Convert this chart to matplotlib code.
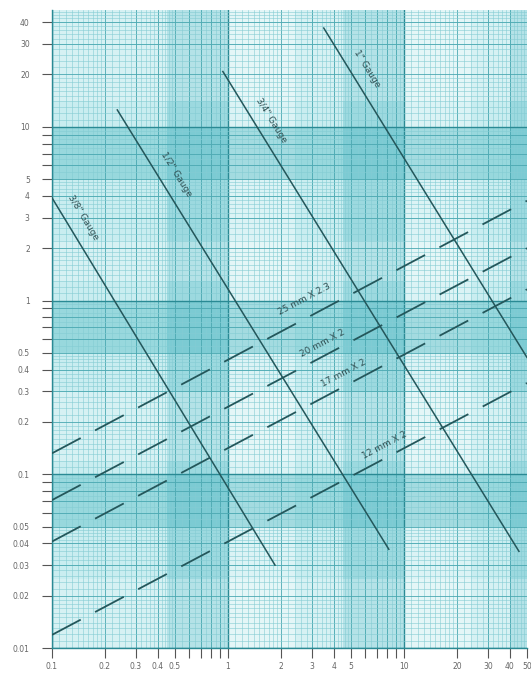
import numpy as np
import matplotlib.pyplot as plt

# solid gauge lines (start / end points)
gauge_labels = ['3/8" Gauge', '1/2" Gauge', '3/4" Gauge', '1" Gauge']
gauge_x0 = [0.1, 0.235, 0.935, 3.5]
gauge_y0 = [3.9, 12.5, 20.8, 37.0]
gauge_x1 = [1.85, 8.2, 45.0, 50.0]
gauge_y1 = [0.030, 0.037, 0.036, 0.47]
gauge_label_x = [0.125, 0.425, 1.48, 5.18]

# dashed tube lines
tube_labels = ['25 mm X 2.3', '20 mm X 2', '17 mm X 2', '12 mm X 2']
tube_x = [0.1, 50.0]
tube_y0 = [0.132, 0.071, 0.041, 0.0119]
tube_y1 = [3.75, 2.0, 1.16, 0.335]
tube_label_x = [3.02, 3.72, 4.85, 8.33]

x_ticklabels = ['0.1', '0.2', '0.3', '0.4', '0.5', '1', '2', '3', '4', '5',
                '10', '20', '30', '40', '50']
y_ticklabels = ['0.01', '0.02', '0.03', '0.04', '0.05', '0.1', '0.2', '0.3', '0.4', '0.5',
                '1', '2', '3', '4', '5', '10', '20', '30', '40']

XLIM = (0.1, 50)
YLIM = (0.01, 47)

fig = plt.figure(figsize=(5.31, 6.76), dpi=100)
ax = fig.add_axes([52 / 531, 28 / 676, 475 / 531, 638 / 676])
ax.set_xscale('log')
ax.set_yscale('log')
ax.set_xlim(*XLIM)
ax.set_ylim(*YLIM)
ax.set_facecolor('#c9edf0')


def paper_positions(lo_exp, hi_exp):
    fine, mid, major = [], [], []
    for e in range(lo_exp, hi_exp + 1):
        b = 10.0 ** e
        major.append(b)
        mid += [m * b for m in range(2, 10)]
        fine += [m * b for m in np.arange(1.1, 2.0, 0.1)]
        fine += [m * b for m in np.arange(2.2, 5.0, 0.2)]
        fine += [m * b for m in np.arange(5.5, 10.0, 0.5)]
    return fine, mid, major


# plaid bands of the graph paper
for lo, hi in [(0.45, 1), (4.5, 10), (40, 50)]:
    ax.axvspan(lo, hi, color='#48b6c0', alpha=0.35, lw=0, zorder=0)
for lo, hi in [(1, 2.4), (10, 24)]:
    ax.axvspan(lo, hi, color='white', alpha=0.35, lw=0, zorder=0)
for lo, hi in [(5, 10), (0.5, 1), (0.05, 0.1)]:
    ax.axhspan(lo, hi, color='#48b6c0', alpha=0.38, lw=0, zorder=0)
for lo, hi in [(0.01, 0.025), (0.12, 0.3), (1.3, 2.2), (14, 47)]:
    ax.axhspan(lo, hi, color='white', alpha=0.25, lw=0, zorder=0)

fine, mid, major = paper_positions(-1, 1)
for v in fine:
    ax.axvline(v, color='#84ccd3', lw=0.4, zorder=1)
for v in mid:
    ax.axvline(v, color='#4aa8b1', lw=0.6, zorder=1)
for v in major:
    ax.axvline(v, color='#2a8a94', lw=1.0, zorder=1)

fine, mid, major = paper_positions(-2, 1)
for v in fine:
    ax.axhline(v, color='#84ccd3', lw=0.4, zorder=1)
for v in mid:
    ax.axhline(v, color='#4aa8b1', lw=0.6, zorder=1)
for v in major:
    ax.axhline(v, color='#2a8a94', lw=1.0, zorder=1)

line_col = '#24575b'

# solid gauge lines
for lab, x0, y0, x1, y1 in zip(gauge_labels, gauge_x0, gauge_y0, gauge_x1, gauge_y1):
    ax.plot([x0, x1], [y0, y1], color=line_col, lw=1.1, zorder=3)

# dashed tube lines
for lab, y0, y1 in zip(tube_labels, tube_y0, tube_y1):
    ax.plot(tube_x, [y0, y1], color=line_col, lw=1.3, zorder=3,
            linestyle=(0, (18, 9)))


def label_on_line(text, x0, y0, x1, y1, lx, offset):
    ly = 10 ** np.interp(np.log10(lx), [np.log10(x0), np.log10(x1)],
                         [np.log10(y0), np.log10(y1)])
    p0 = ax.transData.transform((x0, y0))
    p1 = ax.transData.transform((x1, y1))
    ang = np.arctan2(p1[1] - p0[1], p1[0] - p0[0])
    nx, ny = -np.sin(ang), np.cos(ang)
    ax.annotate(text, xy=(lx, ly), xytext=(nx * offset, ny * offset),
                textcoords='offset points', rotation=np.degrees(ang),
                rotation_mode='anchor', ha='center', va='center',
                fontsize=6.5, color='#2f4f52', zorder=4)


for lab, x0, y0, x1, y1, lx in zip(gauge_labels, gauge_x0, gauge_y0, gauge_x1, gauge_y1, gauge_label_x):
    label_on_line(lab, x0, y0, x1, y1, lx, 11.5)

for i, (lab, y0, y1, lx) in enumerate(zip(tube_labels, tube_y0, tube_y1, tube_label_x)):
    label_on_line(lab, tube_x[0], y0, tube_x[1], y1, lx, 13 if i == 0 else 8.5)

# ticks
ax.set_xticks([float(s) for s in x_ticklabels])
ax.set_xticklabels(x_ticklabels)
ax.set_yticks([float(s) for s in y_ticklabels])
ax.set_yticklabels(y_ticklabels)
ax.set_xticks([m * 10.0 ** e for e in range(-1, 2) for m in range(1, 10) if m * 10.0 ** e <= 50], minor=True)
ax.set_yticks([m * 10.0 ** e for e in range(-2, 2) for m in range(1, 10) if m * 10.0 ** e <= 47], minor=True)
ax.tick_params(which='both', direction='out', color='#555555', width=0.8)
ax.tick_params(axis='y', which='both', length=7, labelsize=5.5, labelcolor='#666666', pad=9)
ax.tick_params(axis='x', which='both', length=7, labelsize=5.5, labelcolor='#666666', pad=3)
ax.tick_params(which='minor', labelleft=False, labelbottom=False)

for s in ['top', 'right']:
    ax.spines[s].set_visible(False)
for s in ['left', 'bottom']:
    ax.spines[s].set_color('#2a8a94')
    ax.spines[s].set_linewidth(1.0)

fig.savefig('out.png', dpi=100)
